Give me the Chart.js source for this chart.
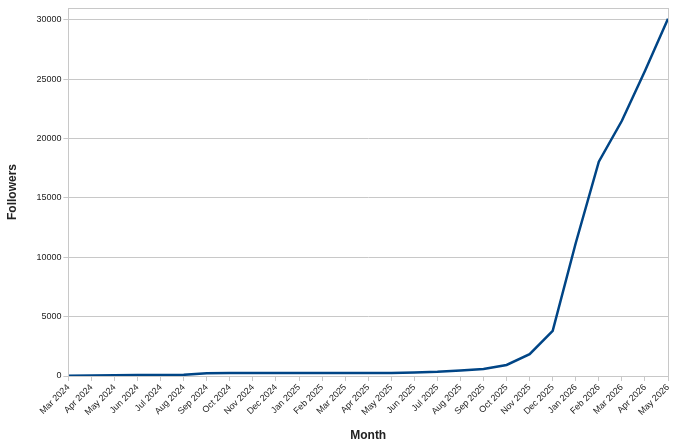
<!DOCTYPE html>
<html>
<head>
<meta charset="utf-8">
<script src="https://cdn.jsdelivr.net/npm/chart.js@4.4.1/dist/chart.umd.min.js"></script>
<style>
  html, body { margin: 0; padding: 0; background: #fff; }
  #wrap { width: 680px; height: 447px; }
</style>
</head>
<body>
<div id="wrap"><canvas id="c"></canvas></div>
<script>
const months = ["Mar 2024","Apr 2024","May 2024","Jun 2024","Jul 2024","Aug 2024","Sep 2024","Oct 2024","Nov 2024","Dec 2024",
  "Jan 2025","Feb 2025","Mar 2025","Apr 2025","May 2025","Jun 2025","Jul 2025","Aug 2025","Sep 2025","Oct 2025",
  "Nov 2025","Dec 2025","Jan 2026","Feb 2026","Mar 2026","Apr 2026","May 2026"];
const followers = [20, 50, 70, 80, 90, 100, 230, 250, 250, 250,
  250, 250, 250, 255, 260, 300, 350, 470, 600, 930,
  1840, 3810, 11200, 18050, 21500, 25700, 30100];
const yTicks = [0, 5000, 10000, 15000, 20000, 25000, 30000];

const frame = {
  id: "frame",
  afterDraw(chart) {
    const a = chart.chartArea, ctx = chart.ctx;
    ctx.save();
    ctx.strokeStyle = "#c8c8c8";
    ctx.lineWidth = 1;
    ctx.strokeRect(Math.round(a.left) + 0.5, Math.round(a.top) + 0.5,
      Math.round(a.right - a.left), Math.round(a.bottom - a.top));
    ctx.restore();
  }
};

const font = { family: "'Liberation Sans', Arial, sans-serif", size: 9 };

new Chart(document.getElementById("c"), {
  type: "line",
  data: {
    labels: months,
    datasets: [{
      data: followers,
      borderColor: "#004586",
      borderWidth: 2.5,
      pointRadius: 0,
      tension: 0,
      fill: false
    }]
  },
  options: {
    responsive: true,
    maintainAspectRatio: false,
    animation: false,
    layout: { padding: { top: 8, right: 12, left: 5, bottom: 4 } },
    plugins: { legend: { display: false }, tooltip: { enabled: false } },
    scales: {
      x: {
        offset: false,
        grid: { display: true, drawOnChartArea: false, tickLength: 5, color: "#c8c8c8" },
        border: { color: "#c8c8c8" },
        ticks: { font, color: "#222", maxRotation: 45, minRotation: 45, autoSkip: false, padding: 1 },
        title: { display: true, text: "Month", font: { family: font.family, size: 12, weight: "bold" }, color: "#222", padding: { top: 10, bottom: 0 } }
      },
      y: {
        min: 0,
        max: 31000,
        afterBuildTicks(scale) { scale.ticks = yTicks.map(v => ({ value: v })); },
        grid: { color: "#c8c8c8", tickLength: 5 },
        border: { color: "#c8c8c8" },
        ticks: { font, color: "#222", padding: 2, callback: v => String(v) },
        title: { display: true, text: "Followers", font: { family: font.family, size: 12, weight: "bold" }, color: "#222", padding: { top: 0, bottom: 15 } }
      }
    }
  },
  plugins: [frame]
});
</script>
</body>
</html>
